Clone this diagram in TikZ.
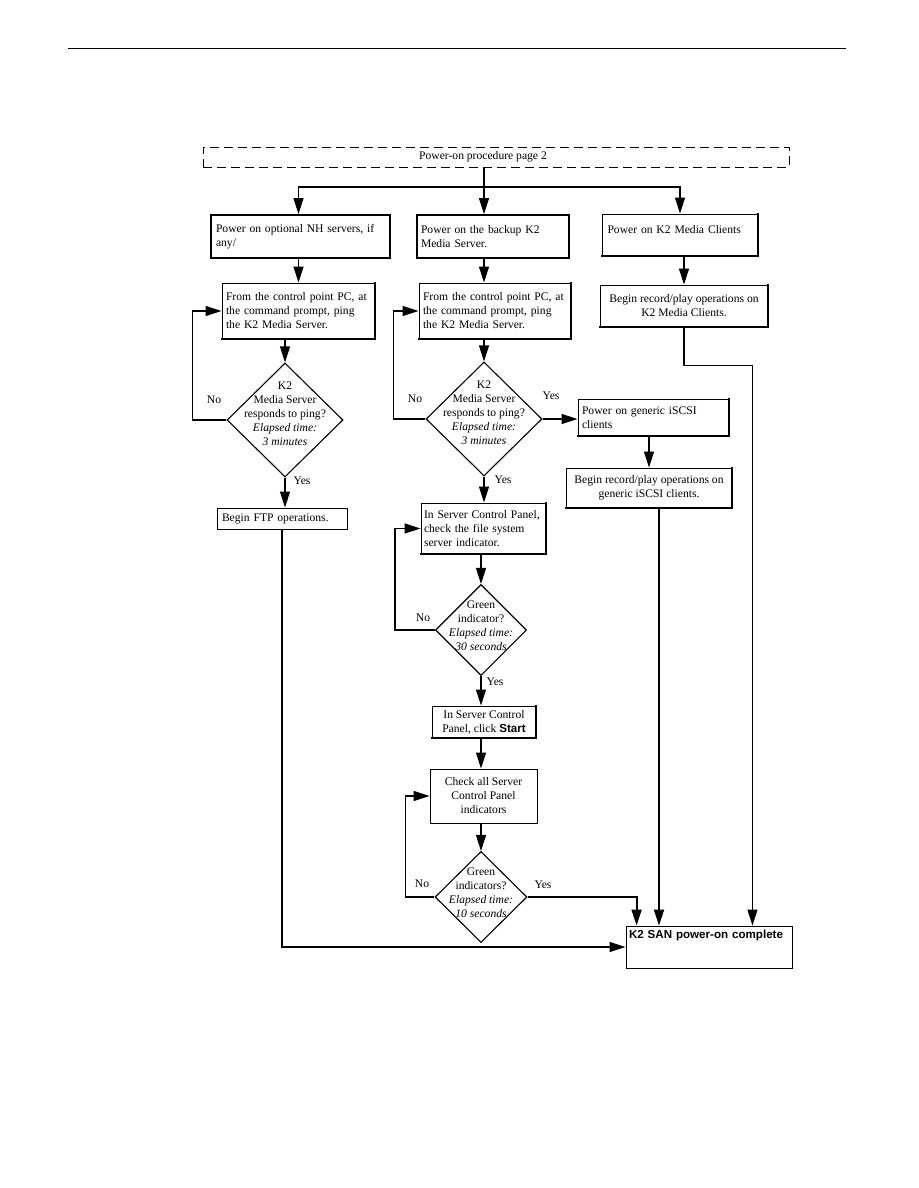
\documentclass[tikz,border=0pt]{standalone}
\usepackage{fontspec}
\setmainfont{Liberation Serif}
\setsansfont{Liberation Sans}
\usetikzlibrary{arrows.meta, shapes.geometric}

\begin{document}
\begin{tikzpicture}[x=1pt, y=-1pt,
  font=\fontsize{11.6}{14}\selectfont,
  procbox/.style={rectangle, draw, line width=0.9pt, inner xsep=3pt,
     inner ysep=2pt, align=left},
  heavybox/.style={procbox, line width=1.8pt},
  midbox/.style={procbox, align=center},
  decide/.style={diamond, draw, line width=1.1pt, inner sep=0pt},
  flow/.style={line width=1.1pt, -{Triangle[length=16pt, width=10pt]}},
  boldflow/.style={flow, line width=1.9pt},
  tag/.style={inner sep=0pt}]
  \useasboundingbox (0,0) rectangle (918,1188);
  \draw[line width=1pt] (68,49) -- (846,49);
  % entry from previous page
  \node[draw, line width=0.6pt, dash pattern=on 9pt off 5pt, minimum width=586pt,
     minimum height=20pt, label={[xshift=-13pt]center:Power-on procedure page 2}]
     (pg) at (496,157) {};
  \coordinate (split) at (484,187);
  % first row
  \node[heavybox, minimum width=179pt, minimum height=43pt, text width=169pt]
     (A1) at (300.5,236.5) {Power on optional NH servers, if\\any/};
  \node[heavybox, minimum width=152pt, minimum height=43pt, text width=144pt]
     (B1) at (493,236.5) {Power on the backup K2\\Media Server.};
  \node[procbox, minimum width=155pt, minimum height=42pt, text width=145pt,
     text depth=12pt] (C1) at (680,235) {Power on K2 Media Clients};
  % ping boxes
  \node[procbox, minimum width=153pt, minimum height=56pt, text width=145pt]
     (A2) at (298.5,311) {From the control point PC, at\\the command prompt, ping\\the K2 Media Server.};
  \node[procbox, minimum width=152pt, minimum height=56pt, text width=144pt]
     (B2) at (495,311) {From the control point PC, at\\the command prompt, ping\\the K2 Media Server.};
  \node[midbox, minimum width=168pt, minimum height=42pt]
     (C2) at (684,306) {Begin record/play operations on\\K2 Media Clients.};
  % ping decisions
  \node[decide, minimum width=116pt, minimum height=114pt,
     label={[align=center, yshift=6pt]center:K2\\Media Server\\responds to ping?\\\textit{Elapsed time:}\\\textit{3 minutes}}]
     (dA) at (285,420) {};
  \node[decide, minimum width=116pt, minimum height=114pt,
     label={[align=center, yshift=6pt]center:K2\\Media Server\\responds to ping?\\\textit{Elapsed time:}\\\textit{3 minutes}}]
     (dB) at (484,419) {};
  % iSCSI clients
  \node[procbox, minimum width=151pt, minimum height=37pt, text width=143pt]
     (D1) at (653.5,417.5) {Power on generic iSCSI\\clients};
  \node[midbox, minimum width=166pt, minimum height=40pt]
     (D2) at (649,488) {Begin record/play operations on\\generic iSCSI clients.};
  \node[procbox, minimum width=130pt, minimum height=21pt, text width=120pt]
     (A3) at (282,518.5) {Begin FTP operations.};
  % server control panel checks
  \node[procbox, minimum width=125pt, minimum height=51pt, text width=119pt]
     (B3) at (483.5,528.5) {In Server Control Panel,\\check the file system\\server indicator.};
  \node[decide, minimum width=91pt, minimum height=91pt,
     label={[align=center, yshift=4pt]center:Green\\indicator?\\\textit{Elapsed time:}\\\textit{30 seconds}}]
     (dG1) at (481,630) {};
  \node[midbox, minimum width=104pt, minimum height=32pt]
     (B4) at (484,722) {In Server Control\\Panel, click \textsf{\bfseries Start}};
  \node[midbox, minimum width=107pt, minimum height=54pt]
     (B5) at (483.5,796) {Check all Server\\Control Panel\\indicators};
  \node[decide, minimum width=92pt, minimum height=91pt,
     label={[align=center, yshift=4pt]center:Green\\indicators?\\\textit{Elapsed time:}\\\textit{10 seconds}}]
     (dG2) at (481,897) {};
  \node[procbox, minimum width=166pt, minimum height=42pt, text width=160pt,
     text depth=25pt] (F) at (709,947) {\textsf{\bfseries K2 SAN power-on complete}};
  % heavier right and bottom edges
  \foreach \b in {A2,B2,C1,C2,D1,D2,B3,B4}
    \draw[line width=2pt, line cap=rect] (\b.north east) -- (\b.south east) -- (\b.south west);
  % answers
  \node[tag] (noA) at (214,400) {No};
  \node[tag] (yesA) at (302,481) {Yes};
  \node[tag] (noB) at (415,399) {No};
  \node[tag] (yesBr) at (551,396) {Yes};
  \node[tag] (yesB) at (503,480) {Yes};
  \node[tag] (noG1) at (423,618) {No};
  \node[tag] (yesG1) at (495,682) {Yes};
  \node[tag] (noG2) at (422,884) {No};
  \node[tag] (yesG2) at (543,885) {Yes};
  % connectors
  \draw[line width=1.1pt] (pg.south -| split) -- (split);
  \draw[flow] (split) -| (A2.north |- A1.north);
  \draw[flow] (split) -- (split |- B1.north);
  \draw[flow] (split) -| (C1.north);
  \draw[flow] (A1.south -| A2.north) -- (A2.north);
  \draw[flow] (B1.south -| dB) -- (B2.north -| dB);
  \draw[flow] (C1.south -| C2.north) -- (C2.north);
  \draw[flow] (A2.south -| dA) -- (dA.north);
  \draw[flow] (B2.south -| dB) -- (dB.north);
  \draw[flow] (dA.west) -- ++(-34,0) |- (A2.west);
  \draw[flow] (dB.west) -- ++(-32,0) |- (B2.west);
  \draw[flow] (dA.south) -- (dA.south |- A3.north);
  \draw[flow] (dB.east) -- (dB.east -| D1.west);
  \draw[flow] (D1.south -| D2.north) -- (D2.north);
  \draw[flow] (dB.south) -- (dB.south |- B3.north);
  \draw[flow] (B3.south -| dG1) -- (dG1.north);
  \draw[flow] (dG1.west) -- ++(-40,0) |- (B3.west);
  \draw[flow] (dG1.south) -- (dG1.south |- B4.north);
  \draw[flow] (B4.south -| dG2) -- (B5.north -| dG2);
  \draw[flow] (B5.south -| dG2) -- (dG2.north);
  \draw[flow] (dG2.west) -- ++(-29,0) |- (B5.west);
  \draw[boldflow] (dG2.east) -| ([xshift=11pt]F.north west);
  \draw[boldflow] ([xshift=10pt]D2.south) -- ([xshift=10pt]D2.south |- F.north);
  \draw[flow] (C2.south) -- ++(0,38) -| ([xshift=-40pt]F.north east);
  \draw[flow] (A3.south) |- (F.west);
\end{tikzpicture}
\end{document}
